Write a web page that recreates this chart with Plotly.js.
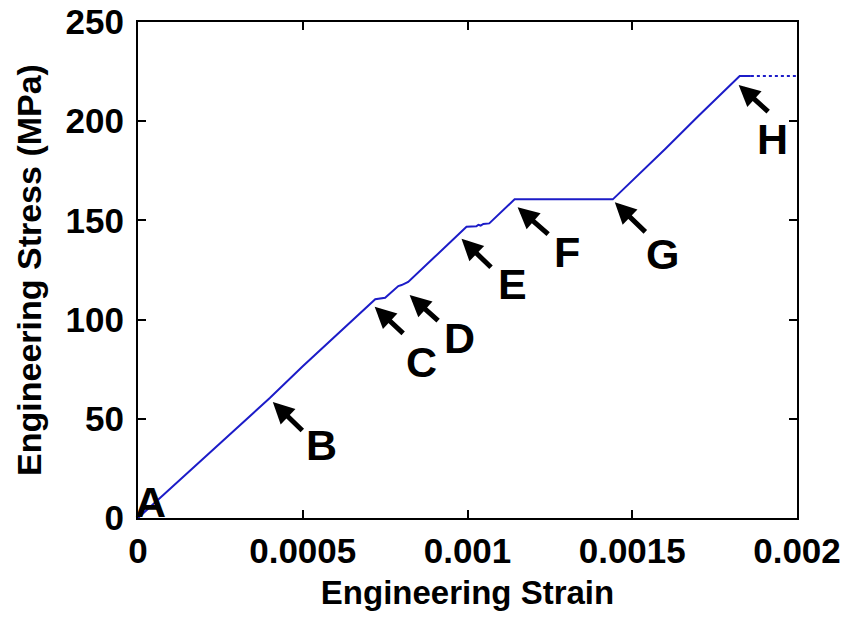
<!DOCTYPE html>
<html>
<head>
<meta charset="utf-8">
<script src="https://cdn.plot.ly/plotly-3.0.1.min.js"></script>
<style>html,body{margin:0;padding:0;background:#fff;}#chart{width:845px;height:619px;}</style>
</head>
<body>
<div id="chart"></div>
<script>
// Engineering stress-strain curve (solid part)
const strain = [0, 0.0001, 0.0002, 0.0003, 0.0004, 0.0005, 0.0006, 0.0007, 0.00072, 0.00075, 0.00079, 0.0008, 0.00082, 0.0009, 0.000997, 0.001027, 0.001033, 0.00104, 0.001048, 0.001066, 0.0011, 0.001143, 0.001441, 0.0016, 0.0017, 0.001826, 0.00186];
const stress = [0, 15, 30, 45.5, 60.5, 76.5, 92, 107.5, 110.3, 111, 116.9, 117.4, 119, 131.5, 146.8, 147, 147.8, 147.4, 148.2, 148.5, 154, 160.6, 160.6, 186, 202.5, 222.8, 222.8];
// dotted continuation after H
const strainTail = [0.00186, 0.002];
const stressTail = [222.8, 222.8];
// labelled points: label letter and index into strain/stress
const pointLabels = ['A', 'B', 'C', 'D', 'E', 'F', 'G', 'H'];
const pointIndex = [0, 4, 7, 11, 14, 21, 22, 25];
const xTickVals = [0, 0.0005, 0.001, 0.0015, 0.002];
const xTickText = ['0', '0.0005', '0.001', '0.0015', '0.002'];
const yTickVals = [0, 50, 100, 150, 200, 250];
const yTickText = ['0', '50', '100', '150', '200', '250'];

const FONT = 'Liberation Sans, Arial, Helvetica, sans-serif';
const blue = '#1c1cc8';

// arrow geometry per label (pixel offsets, y downward): tip shift from point, tail offset from tip, label shift from point
const arrowStyle = {
  A: {lx: 12, ly: -16},
  B: {tx: 3, ty: 4, ax: 31, ay: 30, lx: 52, ly: 47},
  C: {tx: 6, ty: 2, ax: 30, ay: 28, lx: 53, ly: 57},
  D: {tx: 8, ty: 10, ax: 30, ay: 27, lx: 58, ly: 53},
  E: {tx: -5, ty: 12, ax: 31, ay: 30, lx: 46, ly: 57},
  F: {tx: 3, ty: 8, ax: 32, ay: 28, lx: 52, ly: 53},
  G: {tx: 2, ty: 3, ax: 32, ay: 31, lx: 50, ly: 55},
  H: {tx: -1, ty: 9, ax: 31, ay: 28, lx: 33, ly: 63}
};

const annotations = [];
pointLabels.forEach((lab, i) => {
  const k = pointIndex[i];
  const s = arrowStyle[lab];
  if (s.ax !== undefined) {
    annotations.push({
      x: strain[k], y: stress[k], xref: 'x', yref: 'y',
      text: '', showarrow: true,
      ax: s.ax, ay: s.ay, xshift: s.tx, yshift: -s.ty,
      arrowhead: 2, arrowsize: 0.85, arrowwidth: 5, arrowcolor: '#000', standoff: 0
    });
  }
  annotations.push({
    x: strain[k], y: stress[k], xref: 'x', yref: 'y',
    text: lab, showarrow: false, xanchor: 'center', yanchor: 'middle',
    xshift: s.lx, yshift: -s.ly,
    font: {family: FONT, size: 43, color: '#000', weight: 'bold'}
  });
});

const traces = [
  {x: strain, y: stress, type: 'scatter', mode: 'lines', line: {color: blue, width: 2}, hoverinfo: 'skip'},
  {x: strainTail, y: stressTail, type: 'scatter', mode: 'lines', line: {color: blue, width: 2, dash: 'dot'}, hoverinfo: 'skip'}
];

const axisCommon = {
  showgrid: false, zeroline: false, showline: true, linecolor: '#000', linewidth: 2,
  mirror: 'ticks', ticks: 'inside', ticklen: 8, tickwidth: 2, tickcolor: '#000',
  tickfont: {family: FONT, size: 35, color: '#000', weight: 'bold'}
};

const layout = {
  width: 845, height: 619,
  margin: {l: 138, r: 48, t: 22, b: 101},
  paper_bgcolor: '#fff', plot_bgcolor: '#fff',
  showlegend: false,
  xaxis: Object.assign({}, axisCommon, {
    range: [0, 0.002], tickmode: 'array', tickvals: xTickVals, ticktext: xTickText,
    ticklabelstandoff: 1, automargin: false,
    title: {text: 'Engineering Strain', font: {family: FONT, size: 33, color: '#000', weight: 'bold'}, standoff: 12}
  }),
  yaxis: Object.assign({}, axisCommon, {
    range: [0, 250], tickmode: 'array', tickvals: yTickVals, ticktext: yTickText,
    ticklabelstandoff: 5, automargin: false,
    title: {text: 'Engineering Stress (MPa)', font: {family: FONT, size: 34, color: '#000', weight: 'bold'}, standoff: 14}
  }),
  annotations: annotations
};

Plotly.newPlot('chart', traces, layout, {displayModeBar: false, staticPlot: true});
</script>
</body>
</html>
